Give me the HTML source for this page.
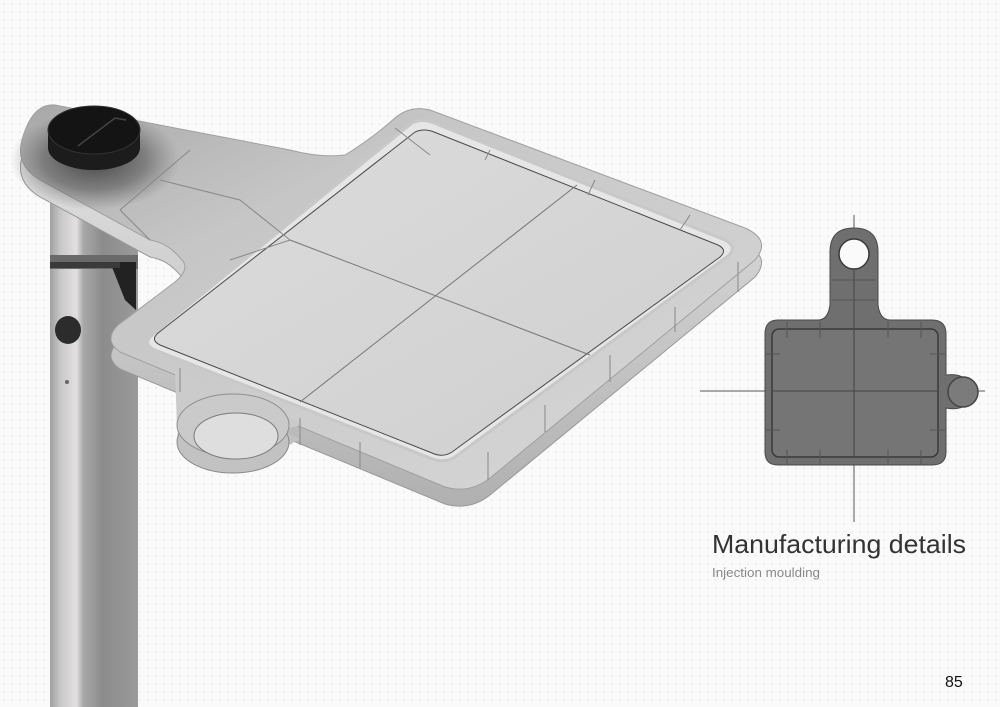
<!DOCTYPE html>
<html><head><meta charset="utf-8"><style>
html,body{margin:0;padding:0;background:#fafafa;}
svg{display:block;}
</style></head><body>
<svg width="1000" height="707" viewBox="0 0 1000 707" xmlns="http://www.w3.org/2000/svg">
<defs>
<pattern id="dots" width="8" height="8" patternUnits="userSpaceOnUse"><rect width="8" height="8" fill="#fafafa"/><circle cx="4" cy="4" r="0.9" fill="#e6e6e6"/></pattern>
<linearGradient id="pole" x1="0" x2="1" y1="0" y2="0">
<stop offset="0" stop-color="#a0a0a0"/><stop offset="0.12" stop-color="#c9c7c7"/><stop offset="0.3" stop-color="#e2e0e0"/><stop offset="0.38" stop-color="#a8a8a8"/><stop offset="0.6" stop-color="#8c8c8c"/><stop offset="1" stop-color="#9a9a9a"/>
</linearGradient>
<linearGradient id="top" x1="0" x2="1" y1="0" y2="1">
<stop offset="0" stop-color="#a8a8a8"/><stop offset="0.3" stop-color="#c6c6c6"/><stop offset="1" stop-color="#d8d8d8"/>
</linearGradient>
<radialGradient id="shade" cx="0.5" cy="0.5" r="0.5">
<stop offset="0" stop-color="#2a2a2a" stop-opacity="0.8"/><stop offset="0.6" stop-color="#3a3a3a" stop-opacity="0.45"/><stop offset="1" stop-color="#555" stop-opacity="0"/>
</radialGradient>
<linearGradient id="panel" x1="0" x2="1" y1="0" y2="1">
<stop offset="0" stop-color="#dcdcdc"/><stop offset="1" stop-color="#cfcfcf"/>
</linearGradient>
<linearGradient id="side" x1="0" x2="0" y1="0" y2="1">
<stop offset="0" stop-color="#e4e4e4"/><stop offset="1" stop-color="#b0b0b0"/>
</linearGradient>
</defs>
<rect width="1000" height="707" fill="url(#dots)"/>

<!-- pole -->
<rect x="50" y="160" width="88" height="547" fill="url(#pole)"/>
<rect x="50" y="255" width="88" height="14" fill="#6a6a6a"/>
<path d="M110 262 L136 262 L136 310 L125 300 Z" fill="#222"/>
<rect x="50" y="262" width="70" height="6" fill="#3a3a3a"/>
<ellipse cx="68" cy="330" rx="13" ry="14" fill="#2c2c2c"/>
<circle cx="67" cy="382" r="2" fill="#666"/>

<!-- tray side (thickness) -->
<g transform="translate(0,17)">
<path d="M55,105 L290,150 Q320,158 345,155 Q370,140 395,118 Q410,105 430,110 L745,228 Q772,240 755,260 L490,478 Q470,494 445,487 L120,352 Q103,340 118,325 L175,282 Q192,268 180,258 Q168,243 150,240 L40,180 Q15,165 22,140 Q32,103 55,105 Z" fill="url(#side)" stroke="#999" stroke-width="1"/>
<path d="M180,372 L300,422 L289,428 L177,428 Z" fill="#c2c2c2"/>
<ellipse cx="233" cy="425" rx="56" ry="31" fill="#c2c2c2" stroke="#8a8a8a"/>
</g>
<!-- tray top face -->
<path d="M55,105 L290,150 Q320,158 345,155 Q370,140 395,118 Q410,105 430,110 L745,228 Q772,240 755,260 L490,478 Q470,494 445,487 L120,352 Q103,340 118,325 L175,282 Q192,268 180,258 Q168,243 150,240 L40,180 Q15,165 22,140 Q32,103 55,105 Z" fill="url(#top)" stroke="#a0a0a0" stroke-width="1"/>
<path d="M175,370 L305,424 L289,428 L177,428 Z" fill="#cbcbcb"/>
<ellipse cx="95" cy="160" rx="85" ry="50" fill="url(#shade)"/>
<!-- cup -->
<ellipse cx="233" cy="425" rx="56" ry="31" fill="#cacaca" stroke="#8f8f8f"/>
<ellipse cx="236" cy="436" rx="42" ry="23" fill="#dedede" stroke="#7a7a7a"/>
<!-- panel -->
<path d="M412,123 Q422,118 434,123 L725,240 Q738,247 728,256 L455,457 Q444,464 430,458 L155,350 Q142,344 152,335 Z" fill="#e6e6e6" stroke="#c8c8c8" stroke-width="3"/>
<path d="M415,132 Q424,128 434,132 L718,245 Q728,250 720,257 L452,452 Q443,458 432,453 L160,345 Q150,340 158,333 Z" fill="url(#panel)" stroke="#4a4a4a" stroke-width="1"/>
<line x1="290" y1="240" x2="590" y2="355" stroke="#777" stroke-width="1"/>
<line x1="577" y1="185" x2="300" y2="402" stroke="#777" stroke-width="1"/>
<!-- segment lines on rim -->
<g stroke="#888" stroke-width="1" fill="none">
<path d="M230,260 L290,240"/><path d="M120,210 L150,240"/><path d="M190,150 L120,210"/>
<path d="M160,180 L240,200"/><path d="M240,200 L290,240"/>
<path d="M395,128 L430,155"/><path d="M490,150 L485,160"/><path d="M595,180 L588,195"/><path d="M690,215 L680,230"/>
<path d="M180,368 L180,392"/><path d="M300,418 L300,445"/><path d="M360,442 L360,468"/><path d="M488,452 L488,480"/>
<path d="M545,405 L545,432"/><path d="M610,355 L610,382"/><path d="M675,307 L675,332"/><path d="M738,262 L738,292"/>
</g>

<!-- knob -->
<path d="M48,130 L48,148 A46 22 0 0 0 140,148 L140,130 Z" fill="#1c1c1c"/>
<ellipse cx="94" cy="130" rx="46" ry="24" fill="#141414" stroke="#333"/>
<path d="M78,146 L115,118 L126,120" stroke="#444" stroke-width="1.5" fill="none"/>

<!-- right plan diagram -->
<line x1="700" y1="391" x2="985" y2="391" stroke="#555" stroke-width="1"/>
<line x1="854" y1="215" x2="854" y2="522" stroke="#555" stroke-width="1"/>
<path d="M778,320 L818,320 Q828,320 830,305 L830,252 Q830,228 854,228 Q878,228 878,252 L878,305 Q880,320 890,320 L932,320 Q946,320 946,334 L946,375 Q963,373 968,383 Q978,392 968,402 Q962,411 946,408 L946,452 Q946,465 932,465 L778,465 Q765,465 765,452 L765,334 Q765,320 778,320 Z" fill="#6f6f6f" stroke="#4a4a4a" stroke-width="1"/>
<circle cx="854" cy="254" r="15" fill="#fafafa" stroke="#3a3a3a" stroke-width="1.5"/>
<circle cx="963" cy="392" r="15" fill="#7b7b7b" stroke="#444" stroke-width="1.5"/>
<rect x="772" y="329" width="166" height="128" rx="7" fill="#757575" stroke="#3a3a3a" stroke-width="1.5"/>
<line x1="772" y1="391" x2="938" y2="391" stroke="#444"/>
<line x1="854" y1="270" x2="854" y2="457" stroke="#444"/>
<g stroke="#555" stroke-width="1">
<line x1="787" y1="322" x2="787" y2="338"/><line x1="820" y1="322" x2="820" y2="338"/><line x1="888" y1="322" x2="888" y2="338"/><line x1="921" y1="322" x2="921" y2="338"/>
<line x1="787" y1="450" x2="787" y2="464"/><line x1="820" y1="450" x2="820" y2="464"/><line x1="888" y1="450" x2="888" y2="464"/><line x1="921" y1="450" x2="921" y2="464"/>
<line x1="766" y1="354" x2="780" y2="354"/><line x1="766" y1="430" x2="780" y2="430"/><line x1="930" y1="354" x2="945" y2="354"/><line x1="930" y1="430" x2="945" y2="430"/>
<line x1="832" y1="280" x2="876" y2="280"/><line x1="832" y1="300" x2="876" y2="300"/>
</g>

<text x="712" y="553" font-family="Liberation Sans, sans-serif" font-size="26" fill="#333" textLength="254" lengthAdjust="spacingAndGlyphs">Manufacturing details</text>
<text x="712" y="577" font-family="Liberation Sans, sans-serif" font-size="13" fill="#888" textLength="108" lengthAdjust="spacingAndGlyphs">Injection moulding</text>
<text x="945" y="687" font-family="Liberation Sans, sans-serif" font-size="16" fill="#111">85</text>
</svg>
</body></html>
